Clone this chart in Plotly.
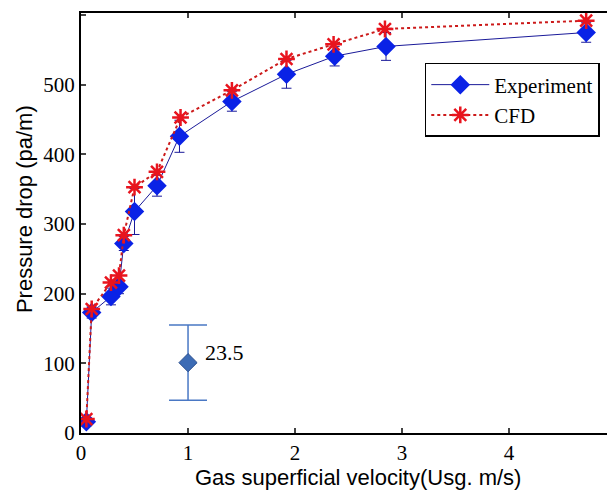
import plotly.graph_objects as go

# Experiment data
exp_x = [0.05, 0.10, 0.28, 0.355, 0.40, 0.50, 0.71, 0.92, 1.41, 1.92, 2.37, 2.85, 4.72]
exp_y = [16, 173, 196, 210, 272, 318, 355, 426, 476, 515, 541, 555, 575]
exp_err = [6, 8, 12, 10, 10, 33, 15, 23, 14, 20, 14, 20, 14]

# CFD data
cfd_x = [0.05, 0.10, 0.28, 0.355, 0.40, 0.50, 0.71, 0.93, 1.41, 1.92, 2.36, 2.84, 4.72]
cfd_y = [20, 178, 216, 226, 284, 353, 375, 453, 492, 537, 558, 580, 592]

# Error-scale annotation
ann_x = [1.0]
ann_y = [101]
ann_err = [54]
ann_label = "23.5"

xticks = [0, 1, 2, 3, 4]
yticks = [0, 100, 200, 300, 400, 500, 600]

fig = go.Figure()

fig.add_trace(go.Scatter(
    x=exp_x, y=exp_y, mode="lines+markers", name="Experiment",
    line=dict(color="#1a1a99", width=1),
    marker=dict(symbol="diamond", size=15, color="#0a22e6", line=dict(width=0)),
    error_y=dict(type="data", array=exp_err, visible=True, color="#1a1a99", thickness=1, width=5),
))

fig.add_trace(go.Scatter(
    x=cfd_x, y=cfd_y, mode="lines+markers", name="CFD",
    line=dict(color="#cc1a1a", width=2, dash="dot"),
    marker=dict(symbol="asterisk-open", size=14, color="#e8141e", line=dict(width=2.5, color="#e8141e")),
))

fig.add_trace(go.Scatter(
    x=ann_x, y=ann_y, mode="markers", showlegend=False,
    marker=dict(symbol="diamond", size=14, color="#3d6cb5", line=dict(width=1, color="#2a4f8f")),
    error_y=dict(type="data", array=ann_err, visible=True, color="#4a78c4", thickness=1.5, width=19),
))

fig.add_annotation(
    x=ann_x[0], y=ann_y[0], xref="x", yref="y", text=ann_label, showarrow=False,
    xanchor="left", yanchor="middle", xshift=15, yshift=10,
    font=dict(family="Liberation Serif", size=22, color="black"),
)

fig.add_annotation(
    x=-0.107, y=0.533, xref="paper", yref="paper", text="Pressure drop (pa/m)",
    showarrow=False, textangle=-90, xanchor="center", yanchor="middle",
    font=dict(family="Liberation Sans", size=22, color="black"),
)
fig.add_annotation(
    x=0.52, y=-0.105, xref="paper", yref="paper", text="Gas superficial velocity(Usg. m/s)",
    showarrow=False, xanchor="center", yanchor="middle",
    font=dict(family="Liberation Sans", size=22, color="black"),
)

fig.update_layout(
    width=615, height=492,
    margin=dict(l=73, r=9, t=5, b=67),
    plot_bgcolor="white", paper_bgcolor="white",
    showlegend=True,
    legend=dict(
        x=0.645, y=0.881, xanchor="left", yanchor="top",
        bgcolor="white", bordercolor="black", borderwidth=1.5,
        font=dict(family="Liberation Serif", size=21, color="black"),
        itemwidth=58, tracegroupgap=0,
    ),
    xaxis=dict(
        range=[0, 4.98], tickvals=xticks, ticks="inside", ticklen=5, tickwidth=1.5,
        showline=True, linecolor="black", linewidth=2, mirror="ticks", showgrid=False, zeroline=False,
        tickfont=dict(family="Liberation Serif", size=21, color="black"), automargin=False,
    ),
    yaxis=dict(
        range=[0, 603], tickvals=yticks, ticks="inside", ticklen=5, tickwidth=1.5,
        showline=True, linecolor="black", linewidth=2, mirror="ticks", showgrid=False, zeroline=False,
        tickfont=dict(family="Liberation Serif", size=21, color="black"), automargin=False,
    ),
)

fig.write_html("out.html")
